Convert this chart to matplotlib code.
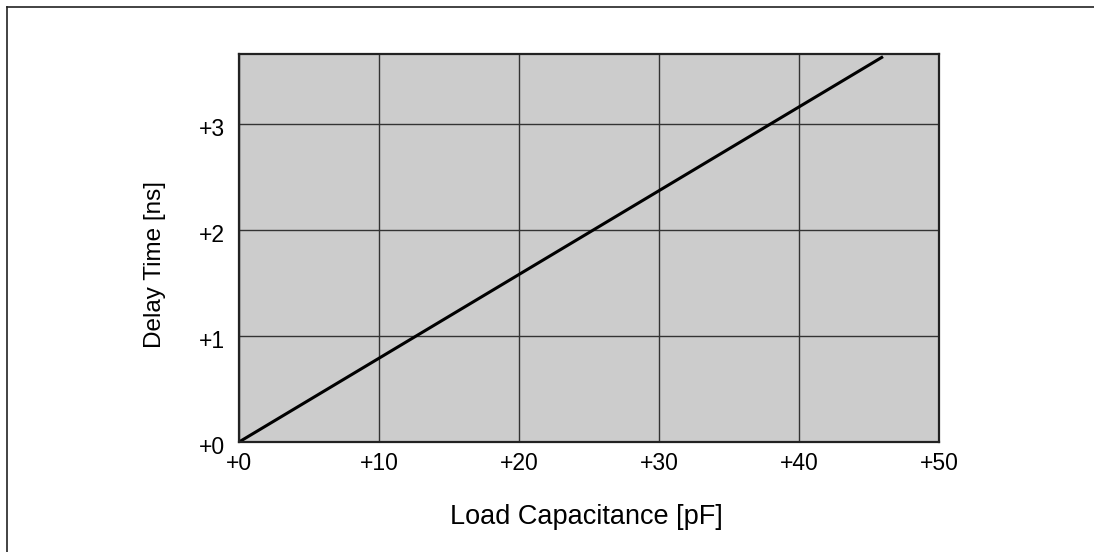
import matplotlib
matplotlib.use("Agg")
import matplotlib.pyplot as plt
from matplotlib.lines import Line2D
from matplotlib.transforms import ScaledTranslation

capacitance_pf = [0, 46]
delay_ns = [0, 3.64]
x_ticks = [0, 10, 20, 30, 40, 50]
x_tick_labels = ["+0", "+10", "+20", "+30", "+40", "+50"]
y_ticks = [0, 1, 2, 3]
y_tick_labels = ["+0", "+1", "+2", "+3"]

plt.rcParams['font.family'] = ['Liberation Sans', 'DejaVu Sans']

W, H = 1094, 552
fig = plt.figure(figsize=(W / 100, H / 100), dpi=100)
ax = fig.add_axes([239 / W, 1 - 442 / H, 700 / W, 388 / H])
ax.set_facecolor('#cccccc')
ax.plot(capacitance_pf, delay_ns, color='black', lw=2.2, solid_capstyle='butt', zorder=3)
ax.set_xlim(0, 50)
ax.set_ylim(0, 3.665)
ax.set_xticks(x_ticks)
ax.set_xticklabels(x_tick_labels)
ax.set_yticks(y_ticks)
ax.set_yticklabels(y_tick_labels)
ax.tick_params(length=0, labelsize=16.5, colors='black')
ax.tick_params(axis='x', pad=7)
ax.tick_params(axis='y', pad=10)
offset = ScaledTranslation(0, -3 / 100, fig.dpi_scale_trans)
for lbl in ax.get_yticklabels():
    lbl.set_transform(lbl.get_transform() + offset)
ax.grid(True, color='#333333', lw=1.0)
ax.set_axisbelow(False)
for s in ax.spines.values():
    s.set_color('#222222')
    s.set_linewidth(1.6)
    s.set_zorder(4)

fig.text(586 / W, 1 - 517 / H, 'Load Capacitance [pF]', fontsize=19.5, ha='center', va='center')
fig.text(155 / W, 1 - 264 / H, 'Delay Time [ns]', fontsize=17.5, ha='center', va='center', rotation=90)

fig.add_artist(Line2D([7 / W, 1], [1 - 7 / H, 1 - 7 / H], transform=fig.transFigure, color='#222222', lw=1.2))
fig.add_artist(Line2D([7 / W, 7 / W], [0, 1 - 7 / H], transform=fig.transFigure, color='#222222', lw=1.2))

fig.savefig('out.png', dpi=100)
